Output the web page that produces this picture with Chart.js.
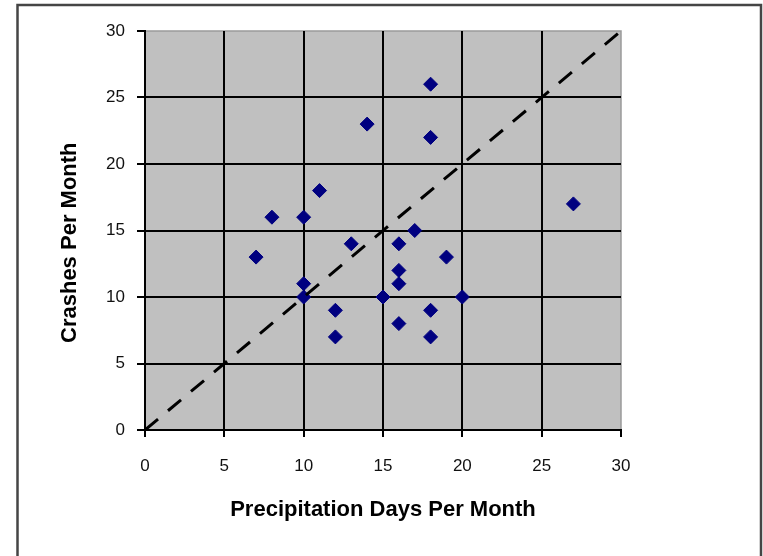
<!DOCTYPE html>
<html>
<head>
<meta charset="utf-8">
<script src="https://cdn.jsdelivr.net/npm/chart.js@4/dist/chart.umd.min.js"></script>
<style>
  html, body { margin:0; padding:0; background:#fff; }
  #wrap { width:763px; height:556px; }
</style>
</head>
<body>
<div id="wrap"><canvas id="crashChart" width="763" height="556"></canvas></div>
<script>
// precipitation days vs crashes, one entry per month
const precipDays = [7, 8, 10, 11, 10, 10, 12, 12, 13, 14, 15, 16, 16, 16, 16, 17, 18, 18, 18, 18, 19, 20, 27];
const crashes    = [13, 16, 16, 18, 11, 10, 9, 7, 14, 23, 10, 14, 12, 11, 8, 15, 26, 22, 9, 7, 13, 10, 17];
const refLineX = [0, 30];
const refLineY = [0, 30];

const axisMin = 0;
const axisMax = 30;
const axisStep = 5;

const FONT = '"Liberation Sans", Arial, sans-serif';

const frame = {
  id:'frame',
  beforeDraw(chart){
    const { ctx, chartArea:a } = chart;
    ctx.save();
    ctx.fillStyle = '#fff';
    ctx.fillRect(0, 0, chart.width, chart.height);
    ctx.strokeStyle = '#454545';
    ctx.lineWidth = 2.5;
    ctx.strokeRect(17.5, 5, 743.5, 560);
    ctx.fillStyle = '#c0c0c0';
    ctx.fillRect(a.left, a.top, a.right - a.left, a.bottom - a.top);
    ctx.strokeStyle = '#9a9a9a';
    ctx.lineWidth = 1.5;
    ctx.strokeRect(a.left, a.top, a.right - a.left, a.bottom - a.top);
    ctx.restore();
  }
};

const gridColor = ctx => ctx.tick && ctx.tick.value === axisMax ? 'rgba(0,0,0,0)' : '#000';

const points = precipDays.map((x, i) => ({ x, y: crashes[i] }));
const line = refLineX.map((x, i) => ({ x, y: refLineY[i] }));

new Chart(document.getElementById('crashChart'), {
  type:'scatter',
  data:{
    datasets:[
      {
        data: points,
        pointStyle:'rectRot',
        pointRadius:7,
        pointHoverRadius:7,
        backgroundColor:'#000080',
        borderColor:'#000080',
        borderWidth:1,
        order:2
      },
      {
        type:'line',
        data: line,
        borderColor:'#000',
        borderWidth:3,
        borderDash:[17, 13],
        pointRadius:0,
        fill:false,
        order:1
      }
    ]
  },
  plugins:[frame],
  options:{
    responsive:false,
    animation:false,
    devicePixelRatio:1,
    layout:{ padding:{ left:0, top:31, right:142, bottom:0 } },
    plugins:{ legend:{ display:false }, tooltip:{ enabled:false } },
    scales:{
      x:{
        type:'linear',
        min:axisMin, max:axisMax,
        afterFit(scale){ scale.height = 126; },
        ticks:{ stepSize:axisStep, color:'#111', padding:19, font:{ family:FONT, size:17 } },
        grid:{ color:gridColor, lineWidth:2, tickLength:7, tickColor:'#000', tickWidth:2 },
        border:{ display:true, color:'#000', width:2 },
        title:{ display:true, text:'Precipitation Days Per Month', color:'#000',
                padding:{ top:0, bottom:33 }, font:{ family:FONT, size:22, weight:'bold' } }
      },
      y:{
        type:'linear',
        min:axisMin, max:axisMax,
        afterFit(scale){ scale.width = 145; },
        ticks:{ stepSize:axisStep, color:'#111', padding:12, font:{ family:FONT, size:17 } },
        grid:{ color:gridColor, lineWidth:2, tickLength:8, tickColor:'#000', tickWidth:2 },
        border:{ display:true, color:'#000', width:2 },
        // trailing spaces nudge the rotated title down to where Excel put it
        title:{ display:true, text:'Crashes Per Month    ', color:'#000',
                padding:{ top:57, bottom:0 }, font:{ family:FONT, size:22, weight:'bold' } }
      }
    }
  }
});
</script>
</body>
</html>
